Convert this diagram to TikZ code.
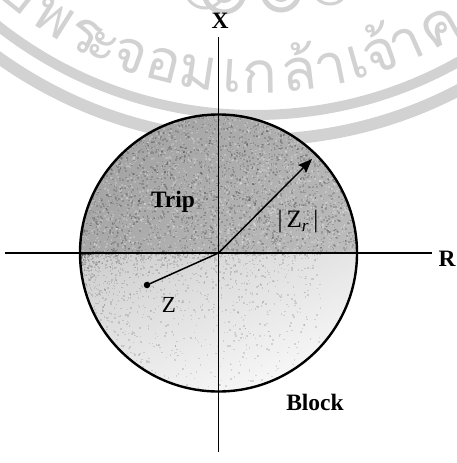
\documentclass[tikz,border=0pt]{standalone}
\usepackage{fontspec}
\setmainfont{Liberation Serif}
\newfontfamily\thaifont[Script=Thai]{Loma}
\usetikzlibrary{arrows.meta,calc,shadings}
\definecolor{wm}{RGB}{210,210,210}
\definecolor{tUL}{gray}{0.62}
\definecolor{tUR}{gray}{0.70}
\definecolor{tLL}{gray}{0.66}
\definecolor{tLR}{gray}{0.74}
\definecolor{bUL}{gray}{0.80}
\definecolor{bUR}{gray}{0.90}
\definecolor{bLL}{gray}{0.92}
\begin{document}
\begin{tikzpicture}[x=1pt,y=-1pt,
  axisline/.style={line width=1.9pt,black},
  thinline/.style={line width=1.5pt,black},
  lbl/.style={font=\fontsize{23.5}{23.5}\selectfont\bfseries, inner sep=0pt},
  txt/.style={font=\fontsize{23}{23}\selectfont, inner sep=0pt},
  wmch/.style={text=wm, font=\thaifont\fontsize{58}{58}\selectfont, inner sep=0pt, anchor=base},
  wmring/.style={draw=wm},
  speck/.style={fill=black, opacity=0.16},
  speckw/.style={fill=white, opacity=0.22}
]
\fill[white] (0,0) rectangle (456,463);
\useasboundingbox (0,0) rectangle (456,463);
% --- watermark ---
\draw[wmring, line width=10pt] (255,-300) circle[radius=415];
\draw[wmring, line width=12pt] (255,-300) circle[radius=440];
\foreach \ch/\a [count=\i] in {ยี/-38.5, พ/-32.4, ร/-26.9, ะ/-23.7, จ/-19.4, อ/-14.1, ม/-8.7, เ/-3.5, ก/0.8, ล้/6.8, า/11.7, เ/15.8, จ้/19.5, า/23.8, ค/29.5}
  \node[wmch, rotate=\a] (wm\i) at ({255+393*sin(\a)},{-300+393*cos(\a)}) {\ch};
\draw[wmring, line width=5pt] (224,-8) circle[radius=20];
\draw[wmring, line width=4pt] (224,-8) circle[radius=9];
\draw[wmring, line width=5pt] (281,-8) circle[radius=18];
\draw[wmring, line width=4pt] (281,-8) circle[radius=8];
\draw[wmring, line width=3pt] (205,-12) circle[radius=20];
\draw[wmring, line width=3pt] (330,-14) circle[radius=18];
% --- diagram ---
\coordinate (O) at (218.5,253);
\shade[upper left=tUL, upper right=tUR, lower left=tLL, lower right=tLR]
  (O) ++(-138.5,0) arc[start angle=180, end angle=360, radius=138.5] -- cycle;
\shade[upper left=bUL, upper right=bUR, lower left=bLL, lower right=white]
  (O) ++(138.5,0) arc[start angle=0, end angle=180, radius=138.5] -- cycle;
% grain
\begin{scope}
  \clip (O) circle[radius=138];
  \pgfmathsetseed{11}
  \foreach \k in {1,...,2600}{
    \pgfmathsetmacro\px{218.5+138*rand}
    \pgfmathsetmacro\py{184+69*rand}
    \fill[speck] (\px,\py) rectangle ++(1.6,1.6);
  }
  \foreach \k in {1,...,1800}{
    \pgfmathsetmacro\px{218.5+138*rand}
    \pgfmathsetmacro\py{184+69*rand}
    \fill[speckw] (\px,\py) rectangle ++(1.6,1.6);
  }
  \foreach \k in {1,...,1600}{
    \pgfmathsetmacro\rx{rnd}
    \pgfmathsetmacro\ry{rnd}
    \pgfmathsetmacro\px{80+240*\rx*\rx}
    \pgfmathsetmacro\py{253+140*\ry*\ry}
    \fill[speck, opacity=0.12] (\px,\py) rectangle ++(1.5,1.5);
  }
\end{scope}
\draw[line width=2.4pt] (O) circle[radius=138.5];
\coordinate (xt) at (218.5,37);
\coordinate (xb) at (218.5,452);
\coordinate (rl) at (5,253);
\coordinate (rr) at (432,253);
\draw[axisline] (xt) -- (xb);
\draw[axisline] (rl) -- (rr);
\node[lbl] (X) at (220,21) {X};
\node[lbl] (R) at (447,259) {R};
\node[lbl] (trip) at (173,202) {Trip};
\node[lbl] (block) at (315,402) {Block};
\node[txt, font=\fontsize{25}{25}\selectfont] (zr) at (298,222) {|\,Z\textsubscript{\itshape r}\,|};
\node[txt] (zl) at (169,305) {Z};
\node[circle, fill=black, inner sep=0pt, minimum size=6.5pt] (zd) at (147,285) {};
\coordinate (tip) at (312,159);
\draw[thinline] (zd.center) -- (O);
\draw[thinline, -{Stealth[length=14pt, width=11pt, inset=2pt]}] (O) -- (tip);
\end{tikzpicture}
\end{document}
